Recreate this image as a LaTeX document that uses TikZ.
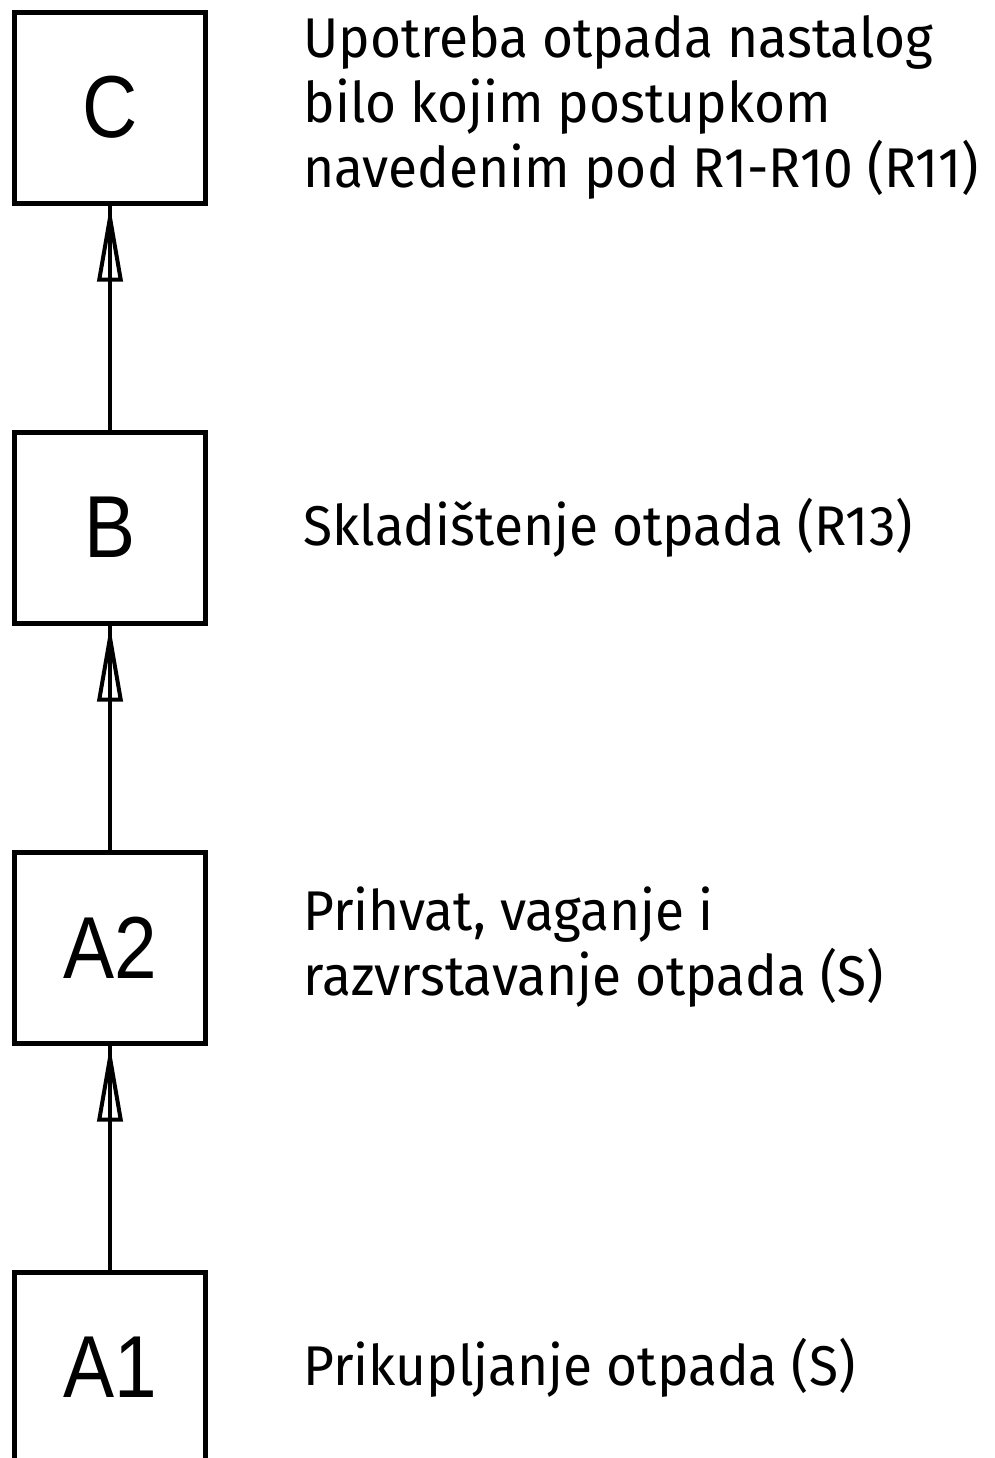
\documentclass[tikz,border=0pt]{standalone}
\usepackage{fontspec}
\usepackage{tikz}
\usetikzlibrary{positioning, arrows.meta}
\newfontfamily\boxfont[FakeStretch=0.87]{Liberation Sans}
\newfontfamily\notefont[FakeStretch=0.95]{Fira Sans}

\begin{document}
\begin{tikzpicture}[x=0.5pt, y=-0.5pt,
  procbox/.style={draw, line width=2.5pt, minimum width=95.5pt, minimum height=95.5pt, inner sep=0pt, font=\boxfont\fontsize{44}{44}\selectfont},
  notetext/.style={anchor=west, align=left, inner sep=0pt, font=\notefont\fontsize{28}{32.5}\selectfont},
  flow/.style={line width=2pt},
  flowtip/.style={line width=2pt, -{Triangle[open, length=38pt, width=12.5pt]}}]
\useasboundingbox (0,0) rectangle (995,1458);
\clip (0,0) rectangle (995,1458);
\node[procbox] (C) at (110,107.5) {C};
\node[procbox] (B) at (110,527.5) {B};
\node[procbox] (A2) at (110,947.5) {A2};
\node[procbox] (A1) at (110,1367.5) {A1};
\node[notetext] (tC) at (303,107.5) {Upotreba otpada nastalog\\bilo kojim postupkom\\navedenim pod R1-R10 (R11)};
\node[notetext] (tB) at (303,527.5) {Skladištenje otpada (R13)};
\node[notetext] (tA2) at (303,947.5) {Prihvat, vaganje i\\razvrstavanje otpada (S)};
\node[notetext] (tA1) at (303,1367.5) {Prikupljanje otpada (S)};
% arrows
\draw[flow] (A1.north) -- (A2.south);
\draw[flowtip] (A1.north) -- (A2.south);
\draw[flow] (A2.north) -- (B.south);
\draw[flowtip] (A2.north) -- (B.south);
\draw[flow] (B.north) -- (C.south);
\draw[flowtip] (B.north) -- (C.south);
\end{tikzpicture}
\end{document}
